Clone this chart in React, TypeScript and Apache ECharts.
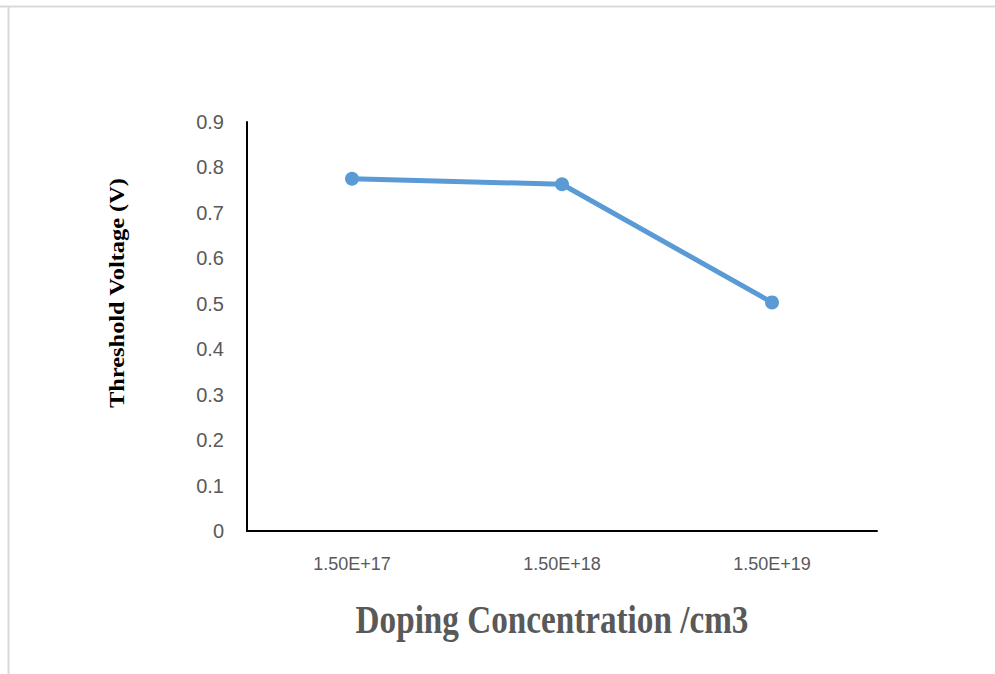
import React, { useEffect, useRef } from "react";
import * as echarts from "echarts";

const categories = ["1.50E+17", "1.50E+18", "1.50E+19"];
const thresholdVoltage = [0.775, 0.763, 0.503];
const yTicks = { min: 0, max: 0.9, interval: 0.1 };
const xTitle = "Doping Concentration /cm3";
const yTitle = "Threshold Voltage (V)";

export default function App() {
  const ref = useRef<HTMLDivElement>(null);
  useEffect(() => {
    if (!ref.current) return;
    const chart = echarts.init(ref.current, undefined, { renderer: "svg" });
    chart.setOption({
      animation: false,
      backgroundColor: "#ffffff",
      grid: { left: 247, right: 118, top: 122, bottom: 143 },
      xAxis: {
        type: "category",
        data: categories,
        boundaryGap: true,
        axisLine: { lineStyle: { color: "#000000", width: 2 } },
        axisTick: { show: false },
        axisLabel: {
          color: "#595959",
          fontFamily: "Liberation Sans",
          fontSize: 18,
          margin: 24,
        },
        splitLine: { show: false },
      },
      yAxis: {
        type: "value",
        min: yTicks.min,
        max: yTicks.max,
        interval: yTicks.interval,
        axisLine: { show: true, lineStyle: { color: "#000000", width: 2 } },
        axisTick: { show: false },
        splitLine: { show: false },
        axisLabel: {
          color: "#595959",
          fontFamily: "Liberation Sans",
          fontSize: 20,
          margin: 23,
          formatter: (v: number) => (v === 0 ? "0" : v.toFixed(1)),
        },
      },
      series: [
        {
          type: "line",
          data: thresholdVoltage,
          symbol: "circle",
          symbolSize: 14,
          lineStyle: { color: "#5B9BD5", width: 5 },
          itemStyle: { color: "#5B9BD5" },
        },
      ],
      graphic: [
        {
          type: "line",
          shape: { x1: 0, y1: 6.5, x2: 995, y2: 6.5 },
          style: { stroke: "#d9d9d9", lineWidth: 2 },
        },
        {
          type: "line",
          shape: { x1: 8.5, y1: 6, x2: 8.5, y2: 674 },
          style: { stroke: "#d9d9d9", lineWidth: 2 },
        },
        {
          type: "text",
          x: 552,
          y: 619,
          scaleX: 0.83,
          style: {
            text: xTitle,
            fontFamily: "Liberation Serif",
            fontWeight: "bold",
            fontSize: 40,
            fill: "#595959",
            align: "center",
            verticalAlign: "middle",
          },
        },
        {
          type: "text",
          x: 117,
          y: 293,
          rotation: Math.PI / 2,
          scaleX: 1.22,
          style: {
            text: yTitle,
            fontFamily: "Liberation Serif",
            fontWeight: "bold",
            fontSize: 20,
            fill: "#000000",
            align: "center",
            verticalAlign: "middle",
          },
        },
      ],
    });
    return () => chart.dispose();
  }, []);
  return (
    <div
      ref={ref}
      style={{ position: "fixed", left: 0, top: 0, width: 995, height: 674 }}
    />
  );
}
